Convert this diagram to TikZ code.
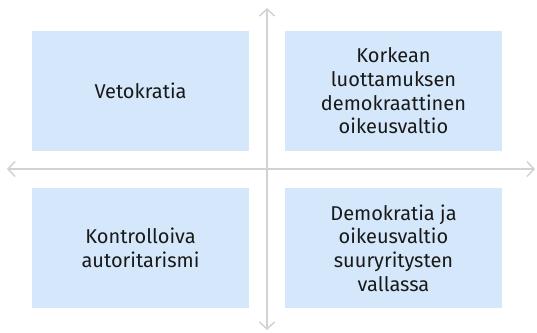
\documentclass[tikz,border=0pt]{standalone}
\usepackage{fontspec}
\setmainfont{Fira Sans}
\usetikzlibrary{arrows.meta}
\definecolor{boxblue}{HTML}{D5E8FB}
\definecolor{axisgray}{HTML}{D2D2D2}
\tikzset{
  quad/.style={fill=boxblue, draw=none, minimum width=217pt, minimum height=120pt, align=center, inner sep=0pt, font=\fontsize{20}{23.7}\selectfont, text=black!90},
  axis/.style={draw=axisgray, line width=1.5pt, -{Straight Barb[length=7pt,width=15pt]}}
}
\begin{document}
\begin{tikzpicture}[x=1pt,y=1pt]
\useasboundingbox (0,0) rectangle (537,332);
\coordinate (vc) at (267,163);
\coordinate (top) at (267,324);
\coordinate (bot) at (267,2);
\coordinate (lft) at (7,163);
\coordinate (rgt) at (535,163);
\draw[axis] (vc) -- (top);
\draw[axis] (vc) -- (bot);
\draw[axis] (vc) -- (lft);
\draw[axis] (vc) -- (rgt);
\node[quad] (tl) at (140.5,241) {Vetokratia};
\node[quad] (tr) at (393.5,241) {Korkean\\luottamuksen\\demokraattinen\\oikeusvaltio};
\node[quad] (bl) at (140.5,84) {Kontrolloiva\\autoritarismi};
\node[quad] (br) at (393.5,84) {Demokratia ja\\oikeusvaltio\\suuryritysten\\vallassa};
\end{tikzpicture}
\end{document}
